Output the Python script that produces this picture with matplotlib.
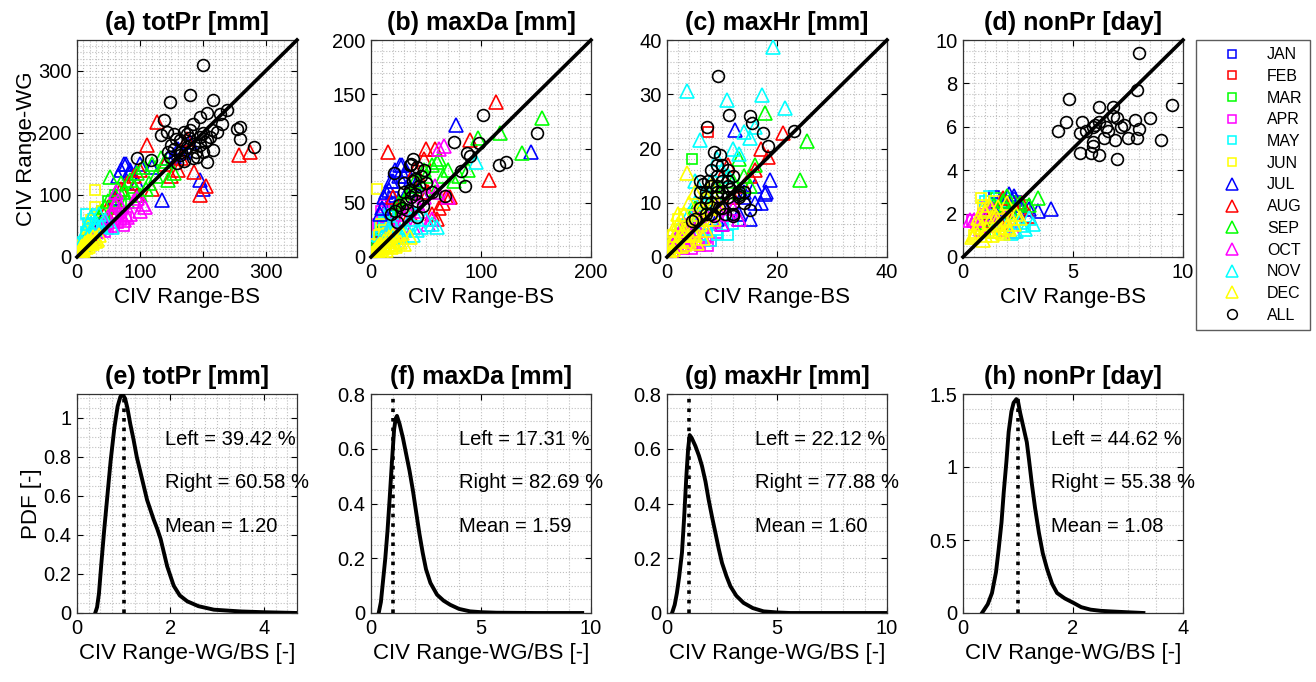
import matplotlib
matplotlib.use('Agg')
import matplotlib.pyplot as plt
from matplotlib.ticker import MultipleLocator, FuncFormatter
from matplotlib.lines import Line2D

plt.rcParams['font.family'] = ['Liberation Sans', 'DejaVu Sans']

# ---------------- data ----------------
months = ['JAN', 'FEB', 'MAR', 'APR', 'MAY', 'JUN',
          'JUL', 'AUG', 'SEP', 'OCT', 'NOV', 'DEC']
month_colors = ['blue', 'red', 'lime', 'magenta', 'cyan', 'yellow'] * 2
month_markers = ['s'] * 6 + ['^'] * 6

# (a) totPr, one list per month: BS range (x) and WG range (y)
totpr_bs = [
    [5, 8, 12, 15, 20, 25, 30, 35, 40],
    [4, 8, 12, 18, 22, 28, 35, 40, 48],
    [8, 12, 18, 25, 30, 38, 45, 55, 62, 70, 30, 40, 50, 60],
    [10, 18, 25, 35, 45, 55, 62, 70, 78, 50, 60, 65, 75],
    [6, 10, 14, 18, 22, 26, 30, 36, 42, 15, 20, 25, 30, 35],
    [3, 6, 10, 14, 18, 22, 28, 29, 40, 8, 12, 16, 20, 25],
    [40, 60, 70, 78, 85, 95, 120, 135, 145, 155, 170, 196, 200, 65, 75, 85, 100, 154, 160, 180],
    [50, 70, 90, 100, 111, 127, 140, 160, 175, 186, 196, 205, 257, 276, 60, 80, 95, 120, 150, 165],
    [30, 45, 53, 65, 75, 85, 95, 105, 115, 125, 133, 145, 155, 40, 50, 60, 70, 80, 90, 100, 110, 120, 140],
    [25, 35, 45, 55, 62, 70, 80, 90, 100, 108, 40, 50, 60, 65, 75, 85, 95, 105],
    [5, 10, 15, 20, 25, 30, 38, 45, 55, 8, 12, 18, 22, 28, 35],
    [1, 3, 5, 7, 9, 12, 15, 18, 22, 26, 30, 35, 2, 4, 6, 8, 10, 12, 14, 16, 18, 20, 24, 28, 32],
]
totpr_wg = [
    [8, 12, 15, 20, 28, 32, 38, 45, 50],
    [6, 10, 18, 22, 30, 35, 40, 52, 58],
    [15, 22, 30, 38, 45, 55, 62, 70, 80, 88, 60, 75, 90, 100],
    [12, 20, 30, 38, 40, 48, 70, 60, 65, 45, 80, 55, 50],
    [15, 25, 40, 55, 48, 62, 66, 58, 50, 70, 50, 60, 70, 55],
    [6, 12, 20, 30, 45, 60, 80, 108, 75, 15, 25, 35, 50, 40],
    [60, 95, 140, 150, 135, 120, 145, 92, 160, 165, 170, 124, 110, 130, 150, 140, 150, 162, 175, 185],
    [80, 110, 130, 140, 180, 218, 150, 140, 190, 137, 100, 115, 164, 170, 90, 120, 100, 110, 130, 160],
    [55, 80, 129, 110, 105, 125, 135, 145, 120, 130, 159, 125, 135, 75, 90, 100, 120, 90, 115, 100, 110, 150, 155],
    [30, 45, 55, 70, 105, 80, 65, 90, 75, 80, 50, 65, 85, 90, 60, 70, 95, 85],
    [8, 18, 28, 40, 35, 55, 50, 60, 48, 25, 40, 55, 65, 45, 70],
    [2, 5, 9, 12, 15, 18, 22, 26, 28, 32, 30, 35, 6, 10, 14, 18, 12, 22, 16, 25, 18, 24, 22, 26, 28],
]
totpr_all_bs = [201, 180, 148, 217, 239, 138, 196, 207, 255, 260, 260, 281, 95, 117,
                133, 143, 154, 170, 180, 164, 175, 186, 196, 207, 223, 217, 207, 191,
                154, 148, 159, 212, 175, 196, 164, 230, 185, 200, 170, 150,
                165, 178, 190, 203, 215, 158, 185, 200, 228, 145]
totpr_all_wg = [310, 261, 250, 253, 237, 221, 226, 232, 207, 210, 191, 178, 159, 156,
                197, 202, 199, 202, 205, 188, 178, 183, 194, 188, 202, 172, 153, 162,
                175, 162, 151, 194, 199, 180, 164, 215, 215, 170, 155, 180,
                170, 192, 170, 185, 205, 190, 160, 200, 230, 170]

# (b) maxDa
maxda_bs = [
    [3, 5, 8, 10, 12, 15, 18, 20],
    [4, 6, 9, 12, 15, 18, 22, 25],
    [5, 8, 10, 14, 18, 22, 26, 30],
    [4, 6, 8, 10, 12, 15, 18, 22, 6, 9, 12, 16],
    [3, 6, 9, 12, 15, 18, 22, 26, 8, 12, 16, 20],
    [2, 4, 5, 7, 9, 12, 15, 18, 20],
    [8, 12, 16, 20, 25, 28, 32, 36, 40, 45, 77, 145, 10, 14, 18, 22, 26, 30, 24, 34],
    [15, 20, 30, 38, 45, 50, 55, 60, 65, 72, 90, 107, 114, 35, 40, 48, 52, 58, 62, 68],
    [25, 32, 40, 48, 55, 60, 65, 75, 88, 97, 117, 137, 155, 30, 35, 42, 50, 58, 62, 70, 80],
    [15, 20, 28, 35, 42, 48, 55, 60, 66, 22, 30, 38, 45, 52, 58, 62, 70],
    [5, 10, 15, 20, 25, 30, 35, 40, 45, 55, 95, 12, 18, 22, 28, 32, 38, 42, 50, 60],
    [1, 2, 3, 4, 5, 6, 8, 10, 12, 14, 16, 18, 20, 24, 28,
     2, 4, 6, 8, 10, 12, 14, 16, 18, 22, 26, 30, 35],
]
maxda_wg = [
    [8, 15, 22, 30, 35, 42, 50, 55],
    [6, 12, 18, 25, 30, 35, 40, 45],
    [10, 18, 25, 30, 38, 42, 45, 50],
    [12, 20, 28, 35, 45, 40, 32, 25, 30, 42, 48, 28],
    [10, 18, 25, 32, 38, 30, 28, 22, 30, 35, 40, 30],
    [5, 12, 63, 20, 30, 25, 22, 18, 15],
    [40, 55, 62, 70, 75, 85, 80, 72, 65, 60, 122, 97, 45, 60, 70, 80, 85, 75, 50, 62],
    [97, 55, 45, 60, 70, 100, 40, 35, 50, 55, 108, 71, 143, 40, 80, 90, 60, 100, 45, 55],
    [50, 55, 70, 80, 85, 88, 75, 70, 80, 110, 114, 96, 128, 45, 60, 65, 75, 60, 90, 80, 75],
    [25, 30, 40, 45, 50, 55, 35, 60, 102, 20, 35, 28, 42, 30, 65, 100, 55],
    [10, 18, 25, 30, 20, 25, 35, 40, 28, 30, 88, 15, 22, 12, 18, 28, 20, 25, 35, 28],
    [2, 4, 5, 6, 8, 10, 12, 8, 15, 10, 18, 12, 20, 15, 22,
     1, 3, 6, 9, 4, 10, 6, 12, 9, 10, 14, 12, 18],
]
maxda_all_bs = [102, 151, 75, 98, 87, 90, 82, 85, 116, 123, 67, 21, 36, 42, 24, 18, 42,
                33, 30, 35, 38, 40, 44, 28, 32, 36, 40, 45, 48, 50, 25, 30, 38, 42, 35,
                55, 22, 47]
maxda_all_wg = [131, 114, 106, 105, 96, 93, 79, 65, 85, 88, 56, 77, 86, 83, 32, 40, 37,
                43, 60, 62, 70, 72, 65, 45, 50, 55, 58, 75, 80, 68, 48, 68, 90, 52, 85,
                60, 42, 47]

# (c) maxHr
maxhr_bs = [
    [0.5, 1, 1.5, 2, 3, 4, 5, 6],
    [1, 1.5, 2, 3, 4, 5, 6, 7.4],
    [1, 2, 3, 4, 4.5, 5, 6, 7],
    [1, 2, 3, 4, 5, 6, 7, 8, 2.5, 3.5, 4.5, 5.5, 6.5, 7.5, 9],
    [1, 2, 3, 4, 5, 6, 7, 8, 9, 7, 9, 10, 11, 12],
    [0.5, 1, 1.5, 2, 2.5, 3, 4, 5, 1, 2, 3, 4, 6, 3.5],
    [4, 6, 8, 10, 11, 12.4, 13, 14, 16, 17.8, 18.7, 9, 10, 12, 13, 14, 15, 16, 17, 18],
    [3, 5, 7, 8, 10, 12, 14, 16, 18.4, 21.1, 6, 9, 11, 13, 15, 17],
    [2, 4, 6, 8, 10, 12, 13, 14, 16, 17.8, 24.2, 25.4, 5, 7, 9, 11, 13, 15],
    [1, 2, 3, 4, 5, 6, 7, 8, 9, 10, 12, 3, 5, 7, 9, 11, 13],
    [2, 3.7, 5, 6, 7, 8, 10, 10.9, 12, 15, 16, 17.2, 19.2, 21.4, 4, 5, 7, 9, 11, 13, 14],
    [0.3, 0.6, 1, 1.5, 2, 2.5, 3, 3.6, 4, 4.5, 5, 6, 7, 8, 2, 1,
     1, 2, 3, 4, 5, 6, 7, 8, 9, 3, 4, 5, 6, 7, 2, 1.5, 2.5, 5.5, 6.5, 8.5],
]
maxhr_wg = [
    [1.5, 3, 2, 4, 5, 6, 7, 8],
    [2, 3, 4, 5, 6, 7, 8, 23.1],
    [2, 3, 5, 6, 18, 8, 9, 10],
    [1, 2, 1.5, 2.5, 3, 2, 3.5, 3, 2, 3.5, 1.5, 2.5, 4, 2, 4.5],
    [2, 3, 4, 5, 6, 4, 5, 3, 4, 6, 5, 7, 4, 6],
    [1, 2, 3, 4, 5, 6, 5, 4, 4, 7, 8, 3, 9, 2],
    [6, 7, 9, 10, 8, 23.5, 7, 12, 10, 11.7, 14.2, 7, 6, 9, 8, 11, 7, 13, 10, 12],
    [5, 8, 12, 14, 15, 11, 13, 16, 18.5, 22.8, 10, 13, 17, 12, 15, 20],
    [4, 6, 8, 10, 12, 14, 18, 15, 17, 26.5, 14.2, 21.3, 9, 11, 13, 15, 12, 13],
    [2, 4, 3, 5, 6, 7, 5, 8, 9, 6, 9, 6, 8, 7, 10, 8, 7],
    [5, 30.6, 10, 21.6, 12, 14, 16, 29, 20, 22, 24, 29.9, 38.7, 27.5, 8, 14, 10, 18, 15, 19, 23],
    [0.5, 1, 1.5, 2, 3, 4, 5, 15.4, 6, 5, 7, 8, 7, 9, 8, 5,
     3, 5, 8, 10, 12, 9, 11, 13, 10, 4, 3, 4, 6, 5, 6, 4, 2, 2.5, 3.5, 7],
]
maxhr_all_bs = [9.3, 11.3, 15.1, 15.4, 17.5, 23, 7.3, 18.4, 8.5, 9.7, 15.1, 4.5, 6, 7,
                8, 9, 10, 11, 12, 13, 8, 9, 10, 11, 7, 6.5, 12, 14, 9.5, 10.5, 8.5, 7.5,
                13, 11.5, 9, 5, 6, 7, 8, 9, 10, 11, 12, 6, 8, 10, 12, 14, 7, 9, 11, 13]
maxhr_all_wg = [33.3, 26.2, 25.9, 24.7, 22.8, 23.3, 23.9, 20.4, 19.3, 18.8, 8.6, 6.7,
                12, 11, 10, 13, 12, 11, 10, 11, 16, 15, 14, 16, 8, 13.5, 7.5, 12, 9, 8,
                7.5, 14, 11.5, 12.5, 17, 7, 9, 10, 8, 12, 9, 13, 8, 14, 13, 17, 15, 10,
                12, 11, 14, 12]

# (d) nonPr
nonpr_bs = [
    [1.2, 1.5, 1.8, 2.0, 2.2, 1.6, 1.4, 2.4],
    [1.0, 1.4, 1.7, 2.0, 2.3, 1.9, 1.2, 2.6],
    [1.0, 1.3, 1.6, 1.9, 2.2, 2.5, 2.8, 1.5],
    [0.6, 0.9, 1.2, 1.5, 1.8, 2.2, 0.4, 1.0],
    [1.0, 1.4, 1.7, 2.0, 2.4, 2.8, 1.2, 2.2],
    [0.5, 0.7, 0.9, 1.1, 1.4, 1.7, 2.0, 0.8, 1.3],
    [1.5, 1.9, 2.3, 2.6, 3.0, 3.4, 4.0, 2.1],
    [1.2, 1.6, 2.0, 2.4, 2.7, 3.0, 1.8],
    [1.0, 1.4, 1.8, 2.2, 2.6, 3.0, 3.4, 2.0],
    [0.5, 0.8, 1.1, 1.5, 1.9, 2.3, 0.3, 1.3],
    [1.3, 1.8, 2.2, 2.6, 2.8, 3.0, 3.2, 2.4],
    [0.4, 0.6, 0.8, 1.0, 1.2, 1.4, 1.6, 1.8, 2.0, 2.2, 1.0, 1.5, 0.7, 2.6,
     0.5, 0.7, 0.9, 1.1, 1.3, 1.5, 1.7, 1.9, 2.1, 2.3, 0.9, 1.2, 1.6, 2.0, 2.4],
]
nonpr_wg = [
    [2.2, 2.5, 2.6, 2.4, 2.7, 2.0, 2.8, 2.6],
    [1.6, 2.0, 2.3, 2.2, 2.5, 1.8, 2.1, 2.0],
    [1.2, 1.8, 2.4, 2.1, 2.6, 2.3, 2.4, 2.7],
    [1.5, 2.0, 1.4, 1.8, 1.2, 1.6, 1.7, 2.3],
    [2.6, 2.4, 2.1, 2.7, 1.7, 1.4, 2.8, 1.9],
    [1.0, 1.5, 2.4, 1.9, 2.6, 1.3, 2.2, 2.7, 2.1],
    [2.0, 2.6, 2.8, 2.4, 2.2, 2.1, 2.2, 2.9],
    [1.8, 2.3, 1.6, 2.1, 2.5, 1.9, 2.7],
    [1.6, 2.4, 2.6, 2.1, 2.5, 2.4, 2.7, 2.8],
    [1.7, 1.3, 2.0, 1.5, 1.8, 1.2, 1.7, 2.2],
    [1.2, 1.5, 1.1, 1.6, 1.3, 1.8, 1.5, 1.2],
    [0.9, 1.2, 1.4, 1.0, 1.6, 1.2, 1.5, 1.1, 1.4, 1.8, 2.1, 1.9, 1.8, 1.8,
     1.0, 1.5, 0.8, 1.3, 1.0, 1.6, 1.2, 1.7, 1.3, 1.5, 2.2, 2.4, 2.3, 2.5, 2.0],
]
nonpr_all_bs = [8.0, 7.9, 4.8, 9.5, 6.2, 6.8, 4.7, 5.4, 4.3, 5.3, 5.9, 6.2, 6.5, 7.0,
                7.3, 7.8, 8.5, 8.0, 7.9, 9.0, 7.5, 6.9, 6.4, 5.9, 5.3, 5.8, 6.2, 5.9,
                7.0, 6.6, 5.6, 6.0, 7.2, 6.8]
nonpr_all_wg = [9.4, 7.7, 7.3, 7.0, 6.9, 6.9, 6.2, 6.2, 5.8, 5.7, 6.0, 6.2, 6.0, 6.4,
                6.1, 6.3, 6.4, 5.9, 5.5, 5.4, 5.5, 5.4, 5.5, 5.3, 4.8, 4.8, 4.7, 5.1,
                4.5, 5.8, 5.8, 6.1, 6.0, 6.5]

# PDF of CIV Range-WG/BS ratio
totpr_ratio = [0.39, 0.43, 0.47, 0.52, 0.58, 0.65, 0.72, 0.8, 0.87, 0.93, 0.98, 1.03,
               1.08, 1.14, 1.21, 1.28, 1.36, 1.43, 1.5, 1.57, 1.64, 1.72, 1.79, 1.86,
               1.93, 2.0, 2.07, 2.2, 2.36, 2.6, 2.93, 3.5, 4.0, 4.71]
totpr_pdf = [0.0, 0.03, 0.1, 0.25, 0.42, 0.6, 0.78, 0.95, 1.06, 1.11, 1.12, 1.1, 1.05,
             0.97, 0.89, 0.8, 0.72, 0.65, 0.58, 0.53, 0.48, 0.43, 0.38, 0.31, 0.24,
             0.19, 0.14, 0.09, 0.06, 0.035, 0.017, 0.008, 0.004, 0.0]
maxda_ratio = [0.35, 0.45, 0.55, 0.65, 0.75, 0.85, 0.95, 1.05, 1.12, 1.18, 1.3, 1.45,
               1.6, 1.75, 1.9, 2.05, 2.2, 2.35, 2.5, 2.7, 3.0, 3.3, 3.6, 4.0, 4.5, 5.0,
               5.7, 7.5, 9.6]
maxda_pdf = [0.0, 0.04, 0.12, 0.2, 0.3, 0.42, 0.55, 0.67, 0.71, 0.72, 0.69, 0.64,
             0.58, 0.52, 0.45, 0.37, 0.29, 0.22, 0.16, 0.11, 0.067, 0.045, 0.03, 0.015,
             0.006, 0.003, 0.001, 0.0, 0.0]
maxhr_ratio = [0.23, 0.35, 0.45, 0.55, 0.68, 0.78, 0.88, 0.96, 1.03, 1.12, 1.29, 1.45,
               1.59, 1.75, 1.89, 2.05, 2.2, 2.35, 2.5, 2.7, 2.88, 3.15, 3.48, 3.9, 4.39,
               5.0, 5.6, 10.0]
maxhr_pdf = [0.0, 0.03, 0.073, 0.13, 0.22, 0.35, 0.5, 0.6, 0.65, 0.64, 0.61, 0.575,
             0.537, 0.48, 0.415, 0.35, 0.293, 0.235, 0.183, 0.135, 0.098, 0.063, 0.037,
             0.018, 0.006, 0.002, 0.0, 0.0]
nonpr_ratio = [0.345, 0.45, 0.527, 0.6, 0.648, 0.7, 0.74, 0.79, 0.83, 0.88, 0.92, 0.97,
               1.0, 1.04, 1.1, 1.16, 1.2, 1.25, 1.31, 1.38, 1.45, 1.53, 1.62, 1.71,
               1.85, 2.01, 2.15, 2.32, 2.5, 2.68, 3.0, 3.28]
nonpr_pdf = [0.0, 0.06, 0.137, 0.28, 0.435, 0.62, 0.824, 1.04, 1.24, 1.38, 1.44, 1.465,
             1.45, 1.37, 1.27, 1.17, 1.05, 0.89, 0.72, 0.55, 0.41, 0.3, 0.2, 0.137, 0.1,
             0.069, 0.04, 0.023, 0.015, 0.011, 0.005, 0.0]

left_pct = [39.42, 17.31, 22.12, 44.62]
right_pct = [60.58, 82.69, 77.88, 55.38]
mean_ratio = [1.20, 1.59, 1.60, 1.08]

scatter_titles = ['(a) totPr [mm]', '(b) maxDa [mm]', '(c) maxHr [mm]', '(d) nonPr [day]']
pdf_titles = ['(e) totPr [mm]', '(f) maxDa [mm]', '(g) maxHr [mm]', '(h) nonPr [day]']

marker_size = {'s': 6.5, '^': 9.5, 'o': 8.5}


def fmt_g(v, pos):
    return '%g' % round(v, 6)


def style_axes(ax, xmaj, xmin, ymaj, ymin):
    ax.xaxis.set_major_locator(MultipleLocator(xmaj))
    ax.xaxis.set_minor_locator(MultipleLocator(xmin))
    ax.yaxis.set_major_locator(MultipleLocator(ymaj))
    ax.yaxis.set_minor_locator(MultipleLocator(ymin))
    ax.xaxis.set_major_formatter(FuncFormatter(fmt_g))
    ax.yaxis.set_major_formatter(FuncFormatter(fmt_g))
    ax.grid(True, which='both', ls=':', color='0.75', lw=0.8)
    ax.set_axisbelow(True)
    ax.tick_params(which='major', direction='in', top=True, right=True,
                   length=4, width=0.8, labelsize=14.5, pad=4)
    ax.tick_params(which='minor', length=0)
    for s in ax.spines.values():
        s.set_color('0.2')
        s.set_linewidth(0.9)


fig = plt.figure(figsize=(13.16, 6.82), dpi=100)
W, H = 1316.0, 682.0
lefts = [77, 371, 667, 963]

# ---------------- scatter row ----------------
scatter_sets = [
    (totpr_bs, totpr_wg, totpr_all_bs, totpr_all_wg, 350, 100, 10, 100, 10),
    (maxda_bs, maxda_wg, maxda_all_bs, maxda_all_wg, 200, 100, 10, 50, 10),
    (maxhr_bs, maxhr_wg, maxhr_all_bs, maxhr_all_wg, 40, 20, 2, 10, 2),
    (nonpr_bs, nonpr_wg, nonpr_all_bs, nonpr_all_wg, 10, 5, 0.5, 2, 0.5),
]
for i, (bs, wg, abs_, awg, lim, xmaj, xmin, ymaj, ymin) in enumerate(scatter_sets):
    ax = fig.add_axes([lefts[i] / W, 1 - 257 / H, 220 / W, 217 / H])
    for m in range(12):
        ax.plot(bs[m], wg[m], ls='none', marker=month_markers[m],
                ms=marker_size[month_markers[m]], mfc='none',
                mec=month_colors[m], mew=1.2, zorder=3)
    ax.plot(abs_, awg, ls='none', marker='o', ms=marker_size['o'], mfc='none',
            mec='k', mew=1.2, zorder=4)
    ax.plot([0, lim], [0, lim], color='k', lw=2.6, zorder=5, clip_on=False)
    ax.set_xlim(0, lim)
    ax.set_ylim(0, lim)
    style_axes(ax, xmaj, xmin, ymaj, ymin)
    ax.set_title(scatter_titles[i], fontsize=18, fontweight='bold', pad=7)
    ax.set_xlabel('CIV Range-BS', fontsize=16, labelpad=4)
    if i == 0:
        ax.set_ylabel('CIV Range-WG', fontsize=16, labelpad=1)

# legend
handles = [Line2D([], [], ls='none', marker=month_markers[m],
                  ms=6 if month_markers[m] == 's' else 8.5, mfc='none',
                  mec=month_colors[m], mew=1.1) for m in range(12)]
handles.append(Line2D([], [], ls='none', marker='o', ms=7, mfc='none', mec='k', mew=1.1))
fig.legend(handles, months + ['ALL'], loc='upper left',
           bbox_to_anchor=(1196 / W, 1 - 40 / H), frameon=True, fancybox=False,
           edgecolor='0.2', fontsize=11.5, labelspacing=0.42, handletextpad=0.4,
           borderpad=0.45, handlelength=3.6, borderaxespad=0)

# ---------------- pdf row ----------------
pdf_sets = [
    (totpr_ratio, totpr_pdf, 4.71, 1.123, 2, 0.25, 0.2, 0.05),
    (maxda_ratio, maxda_pdf, 10, 0.8, 5, 1, 0.2, 0.05),
    (maxhr_ratio, maxhr_pdf, 10, 0.8, 5, 1, 0.2, 0.05),
    (nonpr_ratio, nonpr_pdf, 4, 1.5, 2, 0.5, 0.5, 0.1),
]
for i, (rx, ry, xmax, ymax, xmaj, xmin, ymaj, ymin) in enumerate(pdf_sets):
    ax = fig.add_axes([lefts[i] / W, 1 - 613 / H, 220 / W, 219 / H])
    ax.plot(rx, ry, color='k', lw=2.8, zorder=4, solid_joinstyle='round')
    ax.axvline(1.0, color='k', ls=':', lw=2.6, zorder=5)
    ax.set_xlim(0, xmax)
    ax.set_ylim(0, ymax)
    style_axes(ax, xmaj, xmin, ymaj, ymin)
    ax.set_title(pdf_titles[i], fontsize=18, fontweight='bold', pad=7)
    ax.set_xlabel('CIV Range-WG/BS [-]', fontsize=16, labelpad=4)
    if i == 0:
        ax.set_ylabel('PDF [-]', fontsize=16, labelpad=1)
    ax.text(0.40, 0.79, 'Left = %.2f %%' % left_pct[i], transform=ax.transAxes,
            fontsize=14.5, va='center', zorder=6)
    ax.text(0.40, 0.594, 'Right = %.2f %%' % right_pct[i], transform=ax.transAxes,
            fontsize=14.5, va='center', zorder=6)
    ax.text(0.40, 0.393, 'Mean = %.2f' % mean_ratio[i], transform=ax.transAxes,
            fontsize=14.5, va='center', zorder=6)

fig.savefig('out.png', dpi=100)
